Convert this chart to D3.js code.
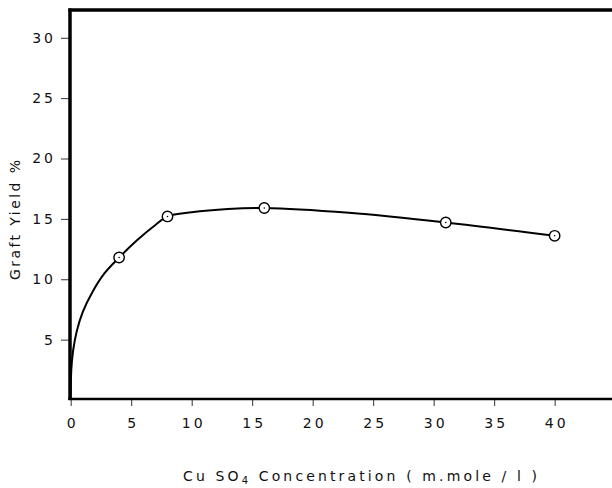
<!DOCTYPE html>
<html lang="en">
<head>
<meta charset="utf-8">
<title>Graft yield vs CuSO4 concentration</title>
<style type="text/css">
  body { margin: 0; background: #fff; }
  svg { display: block; }
  text { font-family: "DejaVu Sans", sans-serif; fill: #111; }
</style>
<script src="https://cdnjs.cloudflare.com/ajax/libs/d3/7.8.5/d3.min.js"></script>
</head>
<body>
<div id="chart"></div>
<script>
// measured points (CuSO4 m.mole/l, graft yield %)
var concentration = [4, 8, 16, 31, 40];
var graftYield = [11.8, 15.2, 15.9, 14.7, 13.6];

// hand drawn curve through the points
var curveConc = [0, 0.05, 0.2, 0.5, 1, 1.8, 2.8, 4, 5.5, 7, 8, 10, 13, 16, 23, 31, 40];
var curveYield = [0, 2.5, 4.1, 5.7, 7.3, 8.95, 10.5, 11.8, 13.25, 14.5, 15.2, 15.55, 15.82, 15.9, 15.5, 14.7, 13.6];

var xTicks = [0, 5, 10, 15, 20, 25, 30, 35, 40];
var yTicks = [5, 10, 15, 20, 25, 30];

var w = 612, h = 488;
var plotLeft = 70, plotTop = 10, plotBottom = 399, plotRight = 612;

var svg = d3.select("#chart").append("svg")
  .attr("width", w)
  .attr("height", h);

var x = d3.scaleLinear().domain([0, 44.74]).range([plotLeft + 0.7, plotRight]);
var y = d3.scaleLinear().domain([0, 32.3]).range([plotBottom + 1, plotTop]);

// y axis
var yAxis = d3.axisLeft(y)
  .tickValues(yTicks)
  .tickSize(9)
  .tickPadding(8)
  .tickFormat(function(d) { return d; });

var gy = svg.append("g")
  .attr("transform", "translate(" + plotLeft + ",0)")
  .call(yAxis);
gy.select(".domain").remove();
gy.selectAll("line").attr("stroke", "#333").attr("stroke-width", 1);
gy.selectAll("text")
  .style("font-size", "14px")
  .style("letter-spacing", "3px")
  .attr("dx", "3px");

// x axis
var xAxis = d3.axisBottom(x)
  .tickValues(xTicks)
  .tickSize(7)
  .tickPadding(12)
  .tickFormat(function(d) { return d; });

var gx = svg.append("g")
  .attr("transform", "translate(0," + plotBottom + ")")
  .call(xAxis);
gx.select(".domain").remove();
gx.selectAll("line").attr("stroke", "#333").attr("stroke-width", 1);
gx.selectAll("text")
  .style("font-size", "14px")
  .style("letter-spacing", "3px")
  .attr("dx", "1.5px");

// frame (heavy lines on left, top, bottom)
svg.append("line")
  .attr("x1", plotLeft).attr("x2", plotLeft)
  .attr("y1", plotTop - 1.5).attr("y2", plotBottom + 1)
  .attr("stroke", "#000").attr("stroke-width", 3.5);
svg.append("line")
  .attr("x1", plotLeft - 1.7).attr("x2", plotRight)
  .attr("y1", plotTop).attr("y2", plotTop)
  .attr("stroke", "#000").attr("stroke-width", 3.5);
svg.append("line")
  .attr("x1", plotLeft - 1.7).attr("x2", plotRight)
  .attr("y1", plotBottom).attr("y2", plotBottom)
  .attr("stroke", "#000").attr("stroke-width", 2.5);

// curve
var curvePts = curveConc.map(function(c, i) { return [c, curveYield[i]]; });
var line = d3.line()
  .x(function(d) { return x(d[0]); })
  .y(function(d) { return y(d[1]); })
  .curve(d3.curveCatmullRom.alpha(0.5));

svg.append("path")
  .datum(curvePts)
  .attr("d", line)
  .attr("fill", "none")
  .attr("stroke", "#000")
  .attr("stroke-width", 2);

// markers
var pts = concentration.map(function(c, i) { return { c: c, v: graftYield[i] }; });
var mk = svg.selectAll("g.mk")
  .data(pts)
  .enter().append("g")
  .attr("class", "mk")
  .attr("transform", function(d) { return "translate(" + x(d.c) + "," + y(d.v) + ")"; });
mk.append("circle")
  .attr("r", 5.2)
  .attr("fill", "#fff")
  .attr("stroke", "#000")
  .attr("stroke-width", 1.4);
mk.append("circle")
  .attr("r", 0.8)
  .attr("fill", "#000");

// axis titles
var xt = svg.append("text")
  .attr("x", 183)
  .attr("y", 481)
  .attr("textLength", 354)
  .attr("lengthAdjust", "spacing")
  .style("font-size", "14px");
xt.append("tspan").text("Cu SO");
xt.append("tspan").attr("dy", 3).style("font-size", "10px").text("4");
xt.append("tspan").attr("dy", -3).text("  Concentration  ( m.mole / l )");

svg.append("text")
  .attr("transform", "translate(20,220) rotate(-90)")
  .attr("text-anchor", "middle")
  .attr("textLength", 120)
  .attr("lengthAdjust", "spacing")
  .style("font-size", "14px")
  .text("Graft Yield %");
</script>
</body>
</html>
